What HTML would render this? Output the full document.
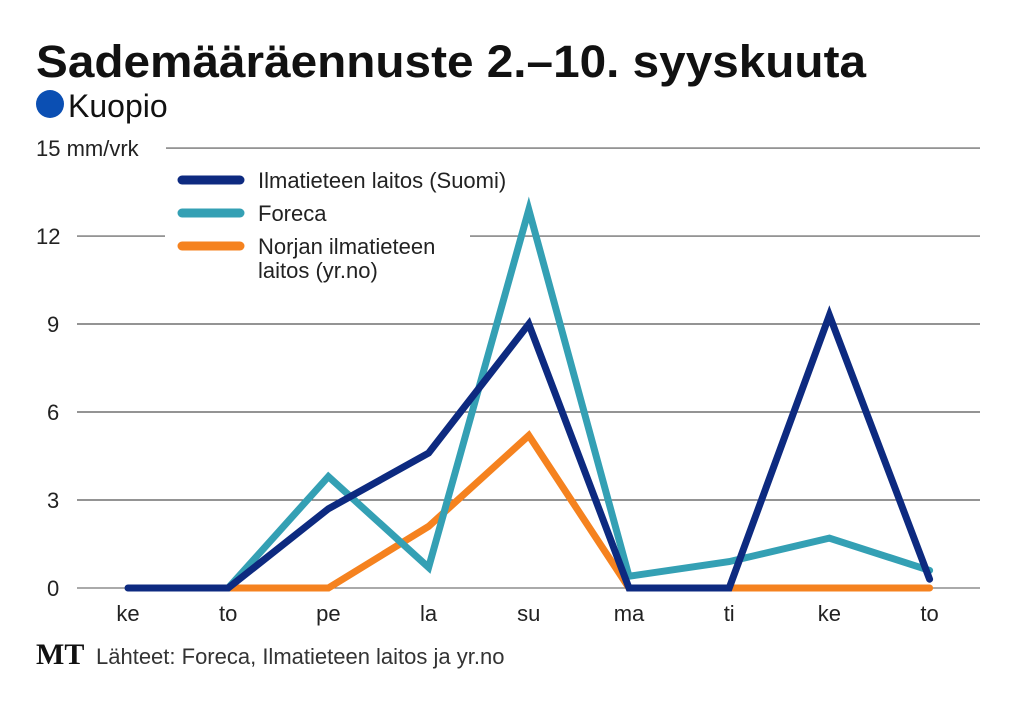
<!DOCTYPE html>
<html><head><meta charset="utf-8"><style>
body{margin:0;background:#fff;width:1019px;height:702px;overflow:hidden;font-family:"Liberation Sans",sans-serif;}
</style></head><body>
<svg width="1019" height="702">
<text x="36" y="77" font-size="45" font-weight="bold" fill="#111" textLength="830" lengthAdjust="spacingAndGlyphs">Sademääräennuste 2.–10. syyskuuta</text>
<circle cx="50" cy="104" r="14" fill="#0b4fb3"/>
<text x="68" y="117" font-size="32" fill="#111">Kuopio</text>
<g id="grid"></g>
<rect x="165" y="160" width="305" height="130" fill="#fff"/>
<g id="ylabels" font-size="22" fill="#222"></g>
<g id="xlabels" font-size="22" fill="#222" text-anchor="middle"></g>
<g id="series"></g>
<g font-size="22" fill="#222">
<line x1="182" y1="180" x2="240" y2="180" stroke="#0d2a80" stroke-width="9" stroke-linecap="round"/>
<text x="258" y="188">Ilmatieteen laitos (Suomi)</text>
<line x1="182" y1="213" x2="240" y2="213" stroke="#34a0b4" stroke-width="9" stroke-linecap="round"/>
<text x="258" y="221">Foreca</text>
<line x1="182" y1="246" x2="240" y2="246" stroke="#f5821f" stroke-width="9" stroke-linecap="round"/>
<text x="258" y="254">Norjan ilmatieteen</text>
<text x="258" y="278">laitos (yr.no)</text>
</g>
<text x="36" y="664" font-size="30" font-weight="bold" font-family="Liberation Serif,serif" fill="#111">MT</text>
<text x="96" y="664" font-size="22" fill="#333">Lähteet: Foreca, Ilmatieteen laitos ja yr.no</text>
</svg>
<script>
const categories=["ke","to","pe","la","su","ma","ti","ke","to"];
const fmi=[0,0,2.7,4.6,9.0,0,0,9.3,0.3];
const foreca=[null,0,3.8,0.7,12.9,0.4,0.9,1.7,0.6];
const yrno=[null,0,0,2.1,5.2,0,0,0,0];
const yTicks=[0,3,6,9,12,15];
const NS="http://www.w3.org/2000/svg";
const x=i=>128+i*100.2;
const y=v=>588-v*29.33;
function mk(tag,attrs,parent){const e=document.createElementNS(NS,tag);for(const k in attrs)e.setAttribute(k,attrs[k]);parent.appendChild(e);return e;}
const grid=document.getElementById('grid'),yl=document.getElementById('ylabels'),xl=document.getElementById('xlabels'),sg=document.getElementById('series');
yTicks.forEach(t=>{
 const l=mk('line',{x1:t===15?166:77,x2:980,y1:y(t),y2:y(t),stroke:t===0?'#777':'#555','stroke-width':1.2},grid);
 
 
 const tx=mk('text',{x:t===15?36:(t>=10?36:47),y:y(t)+8},yl);
 tx.textContent=t===15?'15 mm/vrk':String(t);
 
 
});
categories.forEach((c,i)=>{
 const tx=mk('text',{x:x(i),y:621},xl);tx.textContent=c;
 
 
});
function line(data,color,name){
 const pts=[];data.forEach((v,i)=>{if(v!==null)pts.push(x(i)+','+y(v));});
 const p=mk('polyline',{points:pts.join(' '),fill:'none',stroke:color,'stroke-width':7,'stroke-linejoin':'miter','stroke-linecap':'round'},sg);
 
 
}
line(yrno,'#f5821f','series-yrno');
line(foreca,'#34a0b4','series-foreca');
line(fmi,'#0d2a80','series-fmi');
</script>
</body></html>
